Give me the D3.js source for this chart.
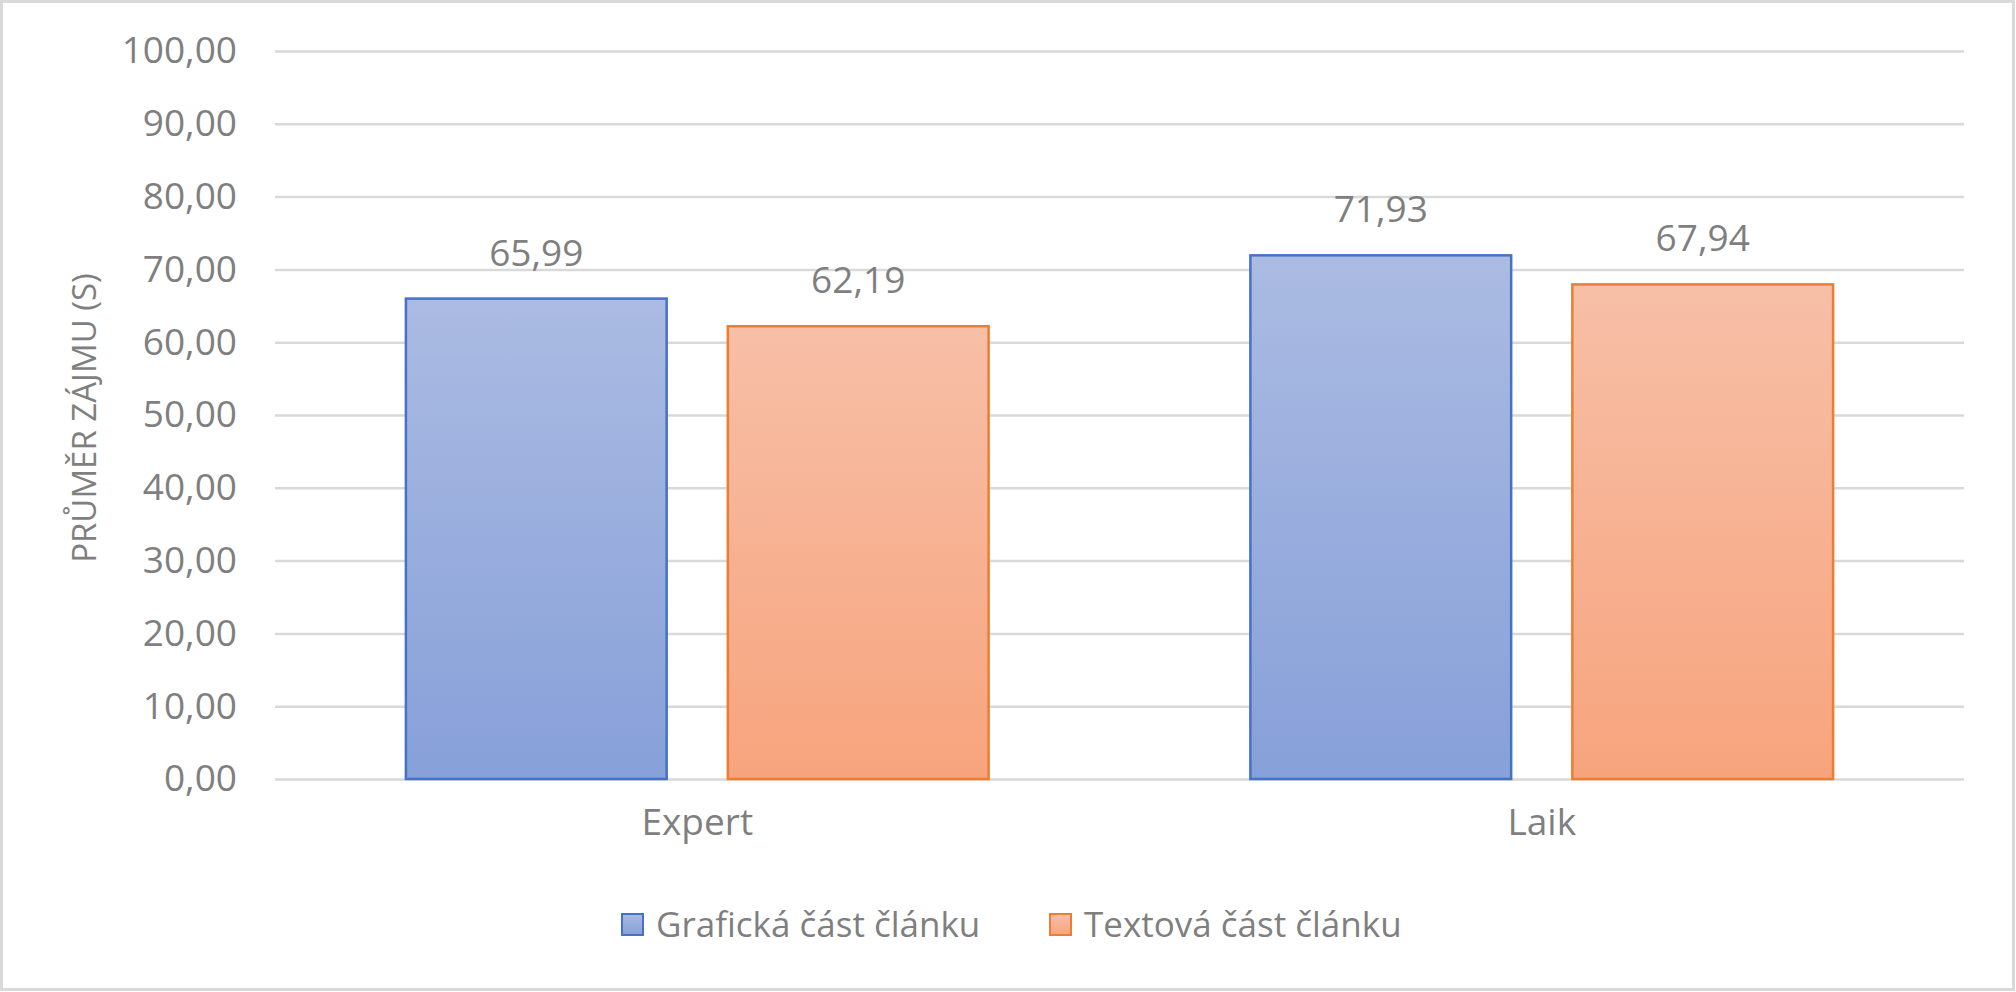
<!DOCTYPE html>
<html>
<head>
<meta charset="utf-8">
<script src="https://cdn.jsdelivr.net/npm/d3@7"></script>
<style>
  body { margin: 0; background: #fff; }
  text { font-family: "Open Sans", sans-serif; fill: #7f7f7f; }
</style>
</head>
<body>
<svg id="chart" width="2016" height="992"></svg>
<script>
const categories = ['Expert', 'Laik']
const seriesNames = ['Grafická část článku', 'Textová část článku']
const grafika = [65.99, 71.93]
const textova = [62.19, 67.94]
const yTicks = [0, 10, 20, 30, 40, 50, 60, 70, 80, 90, 100]

const colors = [
  { stroke: '#4472c4', top: '#abbbe2', bottom: '#87a0d9' },
  { stroke: '#ed7d31', top: '#f7bfa7', bottom: '#f7a47d' }
]

const svg = d3.select('#chart')
const fmt = v => d3.format('.2f')(v).replace('.', ',')

/* gradients */
const defs = svg.append('defs')
colors.forEach((c, i) => {
  const g = defs.append('linearGradient').attr('id', 'g' + i)
    .attr('x1', 0).attr('y1', 0).attr('x2', 0).attr('y2', 1)
  g.append('stop').attr('offset', '0%').attr('stop-color', c.top)
  g.append('stop').attr('offset', '100%').attr('stop-color', c.bottom)
})

/* frame */
svg.append('rect').attr('x', 1.5).attr('y', 1.5).attr('width', 2012).attr('height', 988)
  .attr('fill', 'none').attr('stroke', '#d9d9d9').attr('stroke-width', 3)

const plotLeft = 275, plotRight = 1964, plotTop = 51, plotBottom = 779

const x = d3.scaleBand().domain(categories).range([plotLeft, plotRight]).paddingInner(0.31).paddingOuter(0.155)
const inner = d3.scaleBand().domain([0, 1]).range([0, x.bandwidth()]).paddingInner(0.19)
const y = d3.scaleLinear().domain([0, 100]).range([plotBottom, plotTop])

/* grid + y labels */
const yAxis = svg.append('g').attr('transform', `translate(${plotLeft},0)`)
  .call(d3.axisLeft(y).tickValues(yTicks).tickSize(-(plotRight - plotLeft)).tickFormat(fmt).tickPadding(38))
yAxis.select('.domain').remove()
yAxis.selectAll('line').attr('stroke', '#d9d9d9').attr('stroke-width', 2.5)
yAxis.selectAll('text').style('font-size', '37px').attr('fill', '#7f7f7f')

/* bars */
const series = [grafika, textova]
series.forEach((vals, s) => {
  svg.append('g').selectAll('rect').data(vals).join('rect')
    .attr('x', (d, i) => x(categories[i]) + inner(s))
    .attr('y', d => y(d))
    .attr('width', inner.bandwidth())
    .attr('height', d => y(0) - y(d))
    .attr('fill', `url(#g${s})`)
    .attr('stroke', colors[s].stroke).attr('stroke-width', 2.5)
  svg.append('g').selectAll('text').data(vals).join('text')
    .attr('x', (d, i) => x(categories[i]) + inner(s) + inner.bandwidth() / 2)
    .attr('y', d => y(d) - 33)
    .attr('text-anchor', 'middle').style('font-size', '37px')
    .text(fmt)
})

/* x labels */
const xAxis = svg.append('g').attr('transform', `translate(0,${plotBottom})`)
  .call(d3.axisBottom(x).tickSize(0).tickPadding(30))
xAxis.select('.domain').remove()
xAxis.selectAll('text').style('font-size', '37px').attr('fill', '#7f7f7f')

/* y title */
svg.append('text').attr('transform', 'translate(96,418) rotate(-90)')
  .attr('text-anchor', 'middle').style('font-size', '33px')
  .text('PRŮMĚR ZÁJMU (S)')

/* legend */
const legX = [622, 1050]
seriesNames.forEach((n, i) => {
  const g = svg.append('g').attr('transform', `translate(${legX[i]},914)`)
  g.append('rect').attr('width', 21).attr('height', 21)
    .attr('fill', `url(#g${i})`).attr('stroke', colors[i].stroke).attr('stroke-width', 2)
  g.append('text').attr('x', 34).attr('y', 23).style('font-size', '35px').text(n)
})
</script>
</body>
</html>
